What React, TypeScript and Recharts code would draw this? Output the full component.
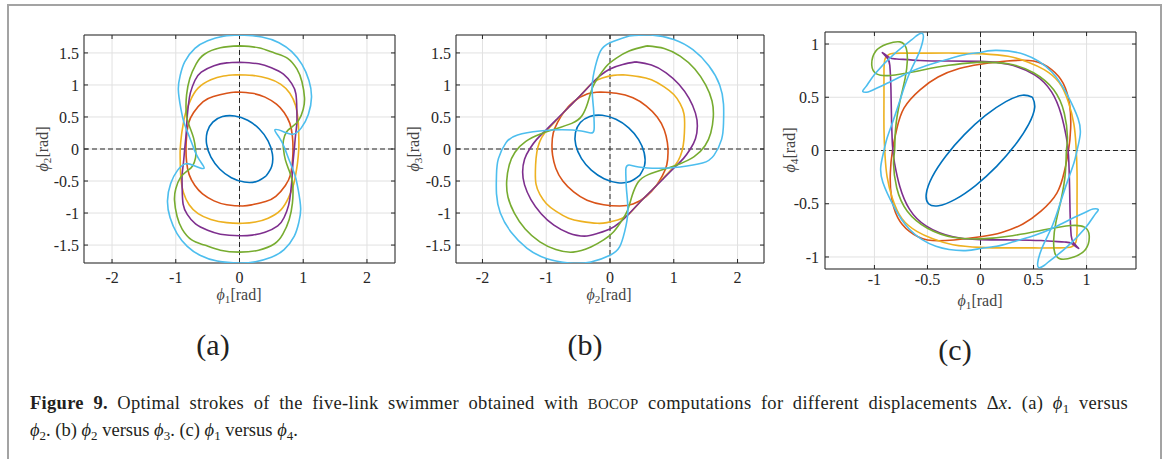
import React from 'react';
import { ScatterChart, Scatter, XAxis, YAxis, CartesianGrid, ReferenceLine, ReferenceArea } from 'recharts';

type Pt = [number, number];

// (a) phi1 vs phi2, one closed stroke per displacement
const a1: Pt[] = [[0.419,-0.419],[0.506,-0.268],[0.516,-0.076],[0.448,0.128],[0.3115,0.3115],[0.128,0.448],[-0.076,0.516],[-0.268,0.506],[-0.419,0.419],[-0.506,0.268],[-0.516,0.076],[-0.448,-0.128],[-0.3115,-0.3115],[-0.128,-0.448],[0.076,-0.516],[0.268,-0.506],[0.419,-0.419]];
const a2: Pt[] = [[-0.05,0.89],[0.2,0.87],[0.4,0.81],[0.58,0.7],[0.7,0.57],[0.79,0.4],[0.83,0.2],[0.84,0],[0.83,-0.2],[0.8,-0.4],[0.72,-0.57],[0.57,-0.74],[0.41,-0.82],[0.2,-0.87],[0.05,-0.89],[-0.2,-0.87],[-0.4,-0.81],[-0.58,-0.7],[-0.7,-0.57],[-0.79,-0.4],[-0.83,-0.2],[-0.84,0],[-0.83,0.2],[-0.8,0.4],[-0.72,0.57],[-0.57,0.74],[-0.41,0.82],[-0.2,0.87],[-0.05,0.89]];
const a3: Pt[] = [[-0.05,1.16],[0.2,1.15],[0.45,1.1],[0.65,1.01],[0.79,0.87],[0.88,0.68],[0.92,0.45],[0.93,0.2],[0.93,0],[0.91,-0.22],[0.89,-0.35],[0.85,-0.55],[0.77,-0.76],[0.65,-0.95],[0.45,-1.08],[0.25,-1.14],[0.05,-1.16],[-0.2,-1.15],[-0.45,-1.1],[-0.65,-1.01],[-0.79,-0.87],[-0.88,-0.68],[-0.92,-0.45],[-0.93,-0.2],[-0.93,0],[-0.91,0.22],[-0.89,0.35],[-0.85,0.55],[-0.77,0.76],[-0.65,0.95],[-0.45,1.08],[-0.25,1.14],[-0.05,1.16]];
const a4: Pt[] = [[0,1.355],[0.3,1.33],[0.5,1.27],[0.69,1.17],[0.82,1.02],[0.885,0.86],[0.9,0.6],[0.9,0.4],[0.88,0.22],[0.86,0],[0.84,-0.2],[0.83,-0.35],[0.82,-0.51],[0.8,-0.7],[0.77,-0.88],[0.7,-1.07],[0.6,-1.2],[0.4,-1.3],[0.2,-1.345],[0,-1.355],[-0.3,-1.33],[-0.5,-1.27],[-0.69,-1.17],[-0.82,-1.02],[-0.885,-0.86],[-0.9,-0.6],[-0.9,-0.4],[-0.88,-0.22],[-0.86,0],[-0.84,0.2],[-0.83,0.35],[-0.82,0.51],[-0.8,0.7],[-0.77,0.88],[-0.7,1.07],[-0.6,1.2],[-0.4,1.3],[-0.2,1.345],[0,1.355]];
const a5: Pt[] = [[0,1.61],[0.3,1.58],[0.55,1.5],[0.75,1.42],[0.9,1.25],[0.98,1.05],[1.02,0.8],[1.0,0.62],[0.93,0.45],[0.82,0.34],[0.74,0.27],[0.69,0.14],[0.69,0],[0.72,-0.17],[0.78,-0.34],[0.83,-0.51],[0.84,-0.67],[0.83,-0.85],[0.78,-1.1],[0.68,-1.33],[0.55,-1.48],[0.3,-1.58],[0,-1.61],[-0.3,-1.58],[-0.55,-1.5],[-0.75,-1.42],[-0.9,-1.25],[-0.98,-1.05],[-1.02,-0.8],[-1.0,-0.62],[-0.93,-0.45],[-0.82,-0.34],[-0.74,-0.27],[-0.69,-0.14],[-0.69,0],[-0.72,0.17],[-0.78,0.34],[-0.83,0.51],[-0.84,0.67],[-0.83,0.85],[-0.78,1.1],[-0.68,1.33],[-0.55,1.48],[-0.3,1.58],[0,1.61]];
const a6: Pt[] = [[0,1.78],[0.35,1.75],[0.62,1.66],[0.82,1.52],[0.98,1.32],[1.09,1.07],[1.13,0.81],[1.08,0.54],[0.97,0.33],[0.84,0.23],[0.69,0.27],[0.555,0.3],[0.63,0.17],[0.71,0.01],[0.79,-0.2],[0.87,-0.41],[0.92,-0.63],[0.96,-0.93],[0.93,-1.15],[0.86,-1.36],[0.7,-1.57],[0.5,-1.69],[0.25,-1.76],[0,-1.78],[-0.35,-1.75],[-0.62,-1.66],[-0.82,-1.52],[-0.98,-1.32],[-1.09,-1.07],[-1.13,-0.81],[-1.08,-0.54],[-0.97,-0.33],[-0.84,-0.23],[-0.69,-0.27],[-0.555,-0.3],[-0.63,-0.17],[-0.71,-0.01],[-0.79,0.2],[-0.87,0.41],[-0.92,0.63],[-0.96,0.93],[-0.93,1.15],[-0.86,1.36],[-0.7,1.57],[-0.5,1.69],[-0.25,1.76],[0,1.78]];

// (b) phi2 vs phi3
const b1: Pt[] = [[0.465,-0.413],[0.542,-0.255],[0.536,-0.058],[0.449,0.147],[0.2935,0.3306],[0.093,0.463],[-0.121,0.526],[-0.317,0.508],[-0.465,0.413],[-0.542,0.255],[-0.536,0.058],[-0.449,-0.147],[-0.2935,-0.3306],[-0.093,-0.463],[0.121,-0.526],[0.317,-0.508],[0.465,-0.413]];
const b2: Pt[] = [[-0.15,0.89],[0.1,0.87],[0.36,0.8],[0.57,0.67],[0.74,0.5],[0.85,0.3],[0.9,0.1],[0.91,-0.06],[0.89,-0.25],[0.82,-0.42],[0.72,-0.58],[0.57,-0.74],[0.36,-0.86],[0.15,-0.89],[-0.1,-0.87],[-0.36,-0.8],[-0.57,-0.67],[-0.74,-0.5],[-0.85,-0.3],[-0.9,-0.1],[-0.91,0.06],[-0.89,0.25],[-0.82,0.42],[-0.72,0.58],[-0.57,0.74],[-0.36,0.86],[-0.15,0.89]];
const b3: Pt[] = [[0.2,1.16],[0.45,1.13],[0.65,1.08],[0.85,0.97],[1.0,0.85],[1.1,0.71],[1.16,0.55],[1.17,0.35],[1.16,0.15],[1.13,-0.03],[1.07,-0.18],[0.98,-0.3],[0.82,-0.47],[0.64,-0.66],[0.45,-0.85],[0.28,-1.03],[0.12,-1.11],[-0.05,-1.15],[-0.2,-1.16],[-0.45,-1.13],[-0.65,-1.08],[-0.85,-0.97],[-1.0,-0.85],[-1.1,-0.71],[-1.16,-0.55],[-1.17,-0.35],[-1.16,-0.15],[-1.13,0.03],[-1.07,0.18],[-0.98,0.3],[-0.82,0.47],[-0.64,0.66],[-0.45,0.85],[-0.28,1.03],[-0.12,1.11],[0.05,1.15],[0.2,1.16]];
const b4: Pt[] = [[0.4,1.36],[0.65,1.31],[0.88,1.19],[1.08,1.01],[1.24,0.79],[1.34,0.56],[1.37,0.36],[1.34,0.16],[1.26,0],[1.15,-0.15],[1.0,-0.3],[0.82,-0.48],[0.64,-0.66],[0.45,-0.85],[0.28,-1.03],[0.15,-1.15],[0,-1.25],[-0.2,-1.32],[-0.4,-1.36],[-0.65,-1.31],[-0.88,-1.19],[-1.08,-1.01],[-1.24,-0.79],[-1.34,-0.56],[-1.37,-0.36],[-1.34,-0.16],[-1.26,0],[-1.15,0.15],[-1.0,0.3],[-0.82,0.48],[-0.64,0.66],[-0.45,0.85],[-0.28,1.03],[-0.15,1.15],[0,1.25],[0.2,1.32],[0.4,1.36]];
const b5: Pt[] = [[0.58,1.61],[0.85,1.57],[1.1,1.45],[1.33,1.25],[1.5,1.0],[1.6,0.75],[1.62,0.5],[1.58,0.25],[1.49,0.05],[1.32,-0.12],[1.1,-0.23],[0.9,-0.3],[0.6,-0.4],[0.44,-0.52],[0.35,-0.72],[0.27,-0.97],[0.17,-1.14],[0.05,-1.3],[-0.1,-1.42],[-0.3,-1.53],[-0.58,-1.61],[-0.85,-1.57],[-1.1,-1.45],[-1.33,-1.25],[-1.5,-1.0],[-1.6,-0.75],[-1.62,-0.5],[-1.58,-0.25],[-1.49,-0.05],[-1.32,0.12],[-1.1,0.23],[-0.9,0.3],[-0.6,0.4],[-0.44,0.52],[-0.35,0.72],[-0.27,0.97],[-0.17,1.14],[-0.05,1.3],[0.1,1.42],[0.3,1.53],[0.58,1.61]];
const b6: Pt[] = [[0.3,1.765],[0.64,1.78],[1.0,1.71],[1.3,1.55],[1.55,1.3],[1.72,1.0],[1.78,0.7],[1.78,0.4],[1.75,0.15],[1.63,-0.1],[1.45,-0.22],[1.1,-0.28],[0.75,-0.3],[0.45,-0.28],[0.3,-0.25],[0.25,-0.3],[0.25,-0.45],[0.26,-0.65],[0.28,-0.98],[0.23,-1.29],[0.15,-1.53],[0,-1.66],[-0.3,-1.765],[-0.64,-1.78],[-1.0,-1.71],[-1.3,-1.55],[-1.55,-1.3],[-1.72,-1.0],[-1.78,-0.7],[-1.78,-0.4],[-1.75,-0.15],[-1.63,0.1],[-1.45,0.22],[-1.1,0.28],[-0.75,0.3],[-0.45,0.28],[-0.3,0.25],[-0.25,0.3],[-0.25,0.45],[-0.26,0.65],[-0.28,0.98],[-0.23,1.29],[-0.15,1.53],[0,1.66],[0.3,1.765]];

// (c) phi1 vs phi4
const c1: Pt[] = [[0.49,0.5],[0.395,0.519],[0.239,0.459],[0.047,0.329],[-0.152,0.149],[-0.328,-0.053],[-0.455,-0.247],[-0.511,-0.405],[-0.49,-0.5],[-0.395,-0.519],[-0.239,-0.459],[-0.047,-0.329],[0.152,-0.149],[0.328,0.053],[0.455,0.247],[0.511,0.405],[0.49,0.5]];
const c2: Pt[] = [[0,0.81],[0.25,0.84],[0.5,0.84],[0.67,0.76],[0.78,0.63],[0.84,0.43],[0.85,0.21],[0.83,0],[0.79,-0.2],[0.72,-0.4],[0.57,-0.57],[0.4,-0.69],[0.2,-0.77],[0,-0.81],[-0.25,-0.84],[-0.5,-0.84],[-0.67,-0.76],[-0.78,-0.63],[-0.84,-0.43],[-0.85,-0.21],[-0.83,0],[-0.79,0.2],[-0.72,0.4],[-0.57,0.57],[-0.4,0.69],[-0.2,0.77],[0,0.81]];
const c3: Pt[] = [[0,0.91],[0.26,0.885],[0.45,0.83],[0.6,0.76],[0.74,0.64],[0.83,0.45],[0.88,0.25],[0.9,0.05],[0.91,-0.2],[0.91,-0.5],[0.91,-0.75],[0.9,-0.86],[0.86,-0.905],[0.75,-0.915],[0.5,-0.915],[0.25,-0.915],[0,-0.91],[-0.26,-0.885],[-0.45,-0.83],[-0.6,-0.76],[-0.74,-0.64],[-0.83,-0.45],[-0.88,-0.25],[-0.9,-0.05],[-0.91,0.2],[-0.91,0.5],[-0.91,0.75],[-0.9,0.86],[-0.86,0.905],[-0.75,0.915],[-0.5,0.915],[-0.25,0.915],[0,0.91]];
const c4: Pt[] = [[0,0.837],[0.26,0.81],[0.51,0.71],[0.67,0.55],[0.76,0.34],[0.81,0.12],[0.83,-0.05],[0.84,-0.35],[0.845,-0.6],[0.855,-0.8],[0.88,-0.87],[0.925,-0.92],[0.86,-0.875],[0.79,-0.86],[0.57,-0.846],[0.3,-0.84],[0,-0.837],[-0.26,-0.81],[-0.51,-0.71],[-0.67,-0.55],[-0.76,-0.34],[-0.81,-0.12],[-0.83,0.05],[-0.84,0.35],[-0.845,0.6],[-0.855,0.8],[-0.88,0.87],[-0.925,0.92],[-0.86,0.875],[-0.79,0.86],[-0.57,0.846],[-0.3,0.84],[0,0.837]];
const c5: Pt[] = [[0,0.83],[0.26,0.815],[0.5,0.73],[0.69,0.57],[0.79,0.35],[0.82,0.12],[0.81,0],[0.8,-0.21],[0.76,-0.46],[0.71,-0.68],[0.69,-0.84],[0.7,-0.96],[0.76,-1.02],[0.88,-1.0],[0.99,-0.93],[1.025,-0.8],[0.98,-0.72],[0.85,-0.705],[0.6,-0.745],[0.3,-0.8],[0,-0.83],[-0.26,-0.815],[-0.5,-0.73],[-0.69,-0.57],[-0.79,-0.35],[-0.82,-0.12],[-0.81,0],[-0.8,0.21],[-0.76,0.46],[-0.71,0.68],[-0.69,0.84],[-0.7,0.96],[-0.76,1.02],[-0.88,1.0],[-0.99,0.93],[-1.025,0.8],[-0.98,0.72],[-0.85,0.705],[-0.6,0.745],[-0.3,0.8],[0,0.83]];
const c6: Pt[] = [[0,0.92],[0.14,0.94],[0.42,0.9],[0.67,0.74],[0.82,0.52],[0.92,0.3],[0.94,0.15],[0.91,0],[0.88,-0.12],[0.82,-0.29],[0.75,-0.5],[0.68,-0.7],[0.6,-0.87],[0.56,-0.97],[0.54,-1.05],[0.55,-1.1],[0.6,-1.08],[0.65,-1.04],[0.81,-0.91],[0.99,-0.725],[1.08,-0.6],[1.11,-0.555],[1.06,-0.55],[0.99,-0.58],[0.84,-0.65],[0.68,-0.73],[0.5,-0.8],[0.3,-0.86],[0.15,-0.9],[0,-0.92],[-0.14,-0.94],[-0.42,-0.9],[-0.67,-0.74],[-0.82,-0.52],[-0.92,-0.3],[-0.94,-0.15],[-0.91,0],[-0.88,0.12],[-0.82,0.29],[-0.75,0.5],[-0.68,0.7],[-0.6,0.87],[-0.56,0.97],[-0.54,1.05],[-0.55,1.1],[-0.6,1.08],[-0.65,1.04],[-0.81,0.91],[-0.99,0.725],[-1.08,0.6],[-1.11,0.555],[-1.06,0.55],[-0.99,0.58],[-0.84,0.65],[-0.68,0.73],[-0.5,0.8],[-0.3,0.86],[-0.15,0.9],[0,0.92]];

const ticksWide = [-2, -1, 0, 1, 2];
const ticksTall = [-1.5, -1, -0.5, 0, 0.5, 1, 1.5];
const ticksHalf = [-1, -0.5, 0, 0.5, 1];

// matlab default line colours
const COLORS = ['#0072BD', '#D95319', '#EDB120', '#7E2F8E', '#77AC30', '#4DBEEE'];

const SERIF = '"Liberation Serif", "Times New Roman", serif';
const INK = '#262626';
const TICK = { fill: INK, fontSize: 16, fontFamily: SERIF };

interface PanelProps {
  left: number;
  top: number;
  width: number;
  height: number;
  xDomain: [number, number];
  yDomain: [number, number];
  xTicks: number[];
  yTicks: number[];
  curves: Pt[][];
  xTickGap: number;
  yTickGap: number;
}

function Panel({ left, top, width, height, xDomain, yDomain, xTicks, yTicks, curves, xTickGap, yTickGap }: PanelProps) {
  const padL = 60;
  const padT = 10;
  const padR = 20;
  const padB = 40;
  const [x0, x1] = xDomain;
  const [y0, y1] = yDomain;
  // inward tick marks, 4px long
  const vLen = ((y1 - y0) * 4) / height;
  const hLen = ((x1 - x0) * 4) / width;
  const marks = [
    ...xTicks.flatMap((t) => [
      [{ x: t, y: y0 }, { x: t, y: y0 + vLen }],
      [{ x: t, y: y1 }, { x: t, y: y1 - vLen }],
    ]),
    ...yTicks.flatMap((t) => [
      [{ x: x0, y: t }, { x: x0 + hLen, y: t }],
      [{ x: x1, y: t }, { x: x1 - hLen, y: t }],
    ]),
  ];
  return (
    <div style={{ position: 'absolute', left: left - padL, top: top - padT }}>
      <ScatterChart
        width={width + padL + padR}
        height={height + padT + padB}
        margin={{ top: padT, right: padR, bottom: padB - 30, left: padL - 40 }}
      >
        <CartesianGrid stroke="#e1e1e1" />
        <XAxis dataKey="x" type="number" domain={xDomain} ticks={xTicks} allowDataOverflow
          height={30} axisLine={false} tickLine={false} tickSize={0} tickMargin={xTickGap} tick={TICK} interval={0} />
        <YAxis dataKey="y" type="number" domain={yDomain} ticks={yTicks} allowDataOverflow
          width={40} axisLine={false} tickLine={false} tickSize={0} tickMargin={yTickGap} tick={TICK} interval={0} />
        <ReferenceLine x={0} stroke={INK} strokeDasharray="5 3" />
        <ReferenceLine y={0} stroke={INK} strokeDasharray="5 3" />
        {curves.map((c, i) => (
          <Scatter
            key={i}
            data={c.map(([x, y]) => ({ x, y }))}
            fill={COLORS[i]}
            line={{ stroke: COLORS[i], strokeWidth: 1.6 }}
            lineJointType="natural"
            shape={() => <g />}
            isAnimationActive={false}
          />
        ))}
        <ReferenceArea x1={x0} x2={x1} y1={y0} y2={y1} fill="none" stroke={INK} strokeWidth={1} />
        {marks.map((seg, i) => (
          <ReferenceLine key={`m${i}`} segment={seg} stroke={INK} strokeWidth={1} />
        ))}
      </ScatterChart>
    </div>
  );
}

function Phi({ i }: { i: number }) {
  return (
    <span>
      <i>ϕ</i>
      <sub style={{ fontSize: '0.7em', verticalAlign: '-0.3em', lineHeight: 0 }}>{i}</sub>
    </span>
  );
}

function XTitle({ x, y, i }: { x: number; y: number; i: number }) {
  return (
    <div style={{ position: 'absolute', left: x, top: y, transform: 'translate(-50%, -50%)', fontFamily: SERIF, fontSize: 16, lineHeight: '16px', color: '#444', whiteSpace: 'nowrap' }}>
      <Phi i={i} />[rad]
    </div>
  );
}

function YTitle({ x, y, i }: { x: number; y: number; i: number }) {
  return (
    <div style={{ position: 'absolute', left: x, top: y, transform: 'translate(-50%, -50%) rotate(-90deg)', fontFamily: SERIF, fontSize: 16, lineHeight: '16px', color: '#444', whiteSpace: 'nowrap' }}>
      <Phi i={i} />[rad]
    </div>
  );
}

function SubLabel({ x, y, text }: { x: number; y: number; text: string }) {
  return (
    <div style={{ position: 'absolute', left: x, top: y, transform: 'translate(-50%, -50%)', fontFamily: SERIF, fontSize: 30, color: '#222' }}>
      {text}
    </div>
  );
}

export default function App() {
  const caption = { fontFamily: SERIF, fontSize: 18.5, lineHeight: '27px', color: '#231f20', whiteSpace: 'nowrap' as const };
  return (
    <div style={{ position: 'absolute', left: 0, top: 0, width: 1168, height: 459, background: '#fff', overflow: 'hidden' }}>
      {/* page frame */}
      <div style={{ position: 'absolute', left: 7, top: 4, width: 1151, height: 470, border: '2px solid #a3a3a3', borderBottom: 'none' }} />

      <Panel left={84} top={35} width={311} height={228} xDomain={[-2.44, 2.44]} yDomain={[-1.78, 1.78]}
        xTicks={ticksWide} yTicks={ticksTall} curves={[a1, a2, a3, a4, a5, a6]} xTickGap={9} yTickGap={5} />
      <Panel left={456} top={35} width={308} height={228} xDomain={[-2.415, 2.415]} yDomain={[-1.78, 1.78]}
        xTicks={ticksWide} yTicks={ticksTall} curves={[b1, b2, b3, b4, b5, b6]} xTickGap={9} yTickGap={5} />
      <Panel left={825} top={32} width={311} height={237} xDomain={[-1.466, 1.466]} yDomain={[-1.113, 1.113]}
        xTicks={ticksHalf} yTicks={ticksHalf} curves={[c1, c2, c3, c4, c5, c6]} xTickGap={5} yTickGap={6} />

      <XTitle x={239} y={295} i={1} />
      <YTitle x={43} y={149} i={2} />
      <XTitle x={609} y={295} i={2} />
      <YTitle x={414} y={149} i={3} />
      <XTitle x={980} y={301} i={1} />
      <YTitle x={790} y={150} i={4} />

      <SubLabel x={213} y={345} text="(a)" />
      <SubLabel x={585} y={345} text="(b)" />
      <SubLabel x={955} y={350} text="(c)" />

      <div style={{ position: 'absolute', left: 30, top: 390, width: 1098, ...caption, letterSpacing: 0.3, textAlign: 'justify', textAlignLast: 'justify' }}>
        <b>Figure 9.</b> Optimal strokes of the five-link swimmer obtained with <span style={{ fontSize: '0.8em' }}>BOCOP</span> computations for different displacements Δ<i>x</i>. (a) <Phi i={1} /> versus
      </div>
      <div style={{ position: 'absolute', left: 30, top: 417, ...caption }}>
        <Phi i={2} />. (b) <Phi i={2} /> versus <Phi i={3} />. (c) <Phi i={1} /> versus <Phi i={4} />.
      </div>
    </div>
  );
}
